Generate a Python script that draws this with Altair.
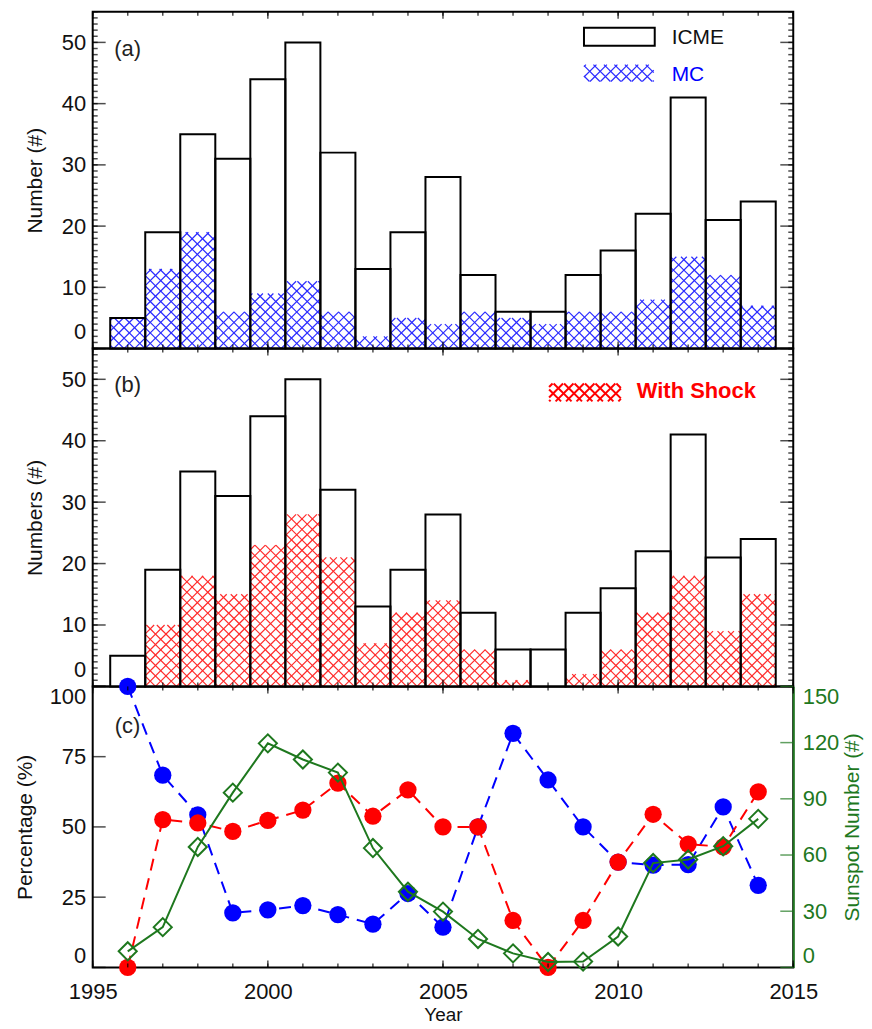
import altair as alt
import numpy as np
import pandas as pd

# ---------------- data ----------------
years = [1996, 1997, 1998, 1999, 2000, 2001, 2002, 2003, 2004, 2005,
         2006, 2007, 2008, 2009, 2010, 2011, 2012, 2013, 2014]
icme = [5, 19, 35, 31, 44, 50, 32, 13, 19, 28, 12, 6, 6, 12, 16, 22, 41, 21, 24]
mc = [5, 13, 19, 6, 9, 11, 6, 2, 5, 4, 6, 5, 4, 6, 6, 8, 15, 12, 7]
shock = [0, 10, 18, 15, 23, 28, 21, 7, 12, 14, 6, 1, 0, 2, 6, 12, 18, 9, 15]
mc_pct = [100, 68.4, 54.3, 19.4, 20.5, 22.0, 18.8, 15.4, 26.3, 14.3,
          50.0, 83.3, 66.7, 50.0, 37.5, 36.4, 36.6, 57.1, 29.2]
shock_pct = [0, 52.6, 51.4, 48.4, 52.3, 56.0, 65.6, 53.8, 63.2, 50.0,
             50.0, 16.7, 0, 16.7, 37.5, 54.5, 43.9, 42.9, 62.5]
sunspot = [8.6, 21.5, 64.3, 93.3, 119.6, 111.0, 104.0, 63.7, 40.4, 29.8,
           15.2, 7.5, 2.9, 3.1, 16.5, 55.7, 57.6, 64.7, 79.3]

year_ticks = list(range(1995, 2016))
year_major = [1995, 2000, 2005, 2010, 2015]
count_ticks = list(range(0, 56))
count_major = [0, 10, 20, 30, 40, 50]
pct_major = [0, 25, 50, 75, 100]
ssn_major = [0, 30, 60, 90, 120, 150]

# ---------------- layout / style ----------------
FONT = "Liberation Sans"
W = 703
HA, HB, HC = 338, 339, 282
XMIN, XMAX = 1995, 2015
YMAX = 55
GREEN = "#1e781e"
BLUE = "#0000ff"
RED = "#ff0000"
HATCH_BLUE = "#2a2aff"
HATCH_RED = "#ff2a2a"
PERIOD = 10.5  # hatch period in px

df = pd.DataFrame({"year": years, "icme": icme, "mc": mc, "shock": shock,
                   "mc_pct": mc_pct, "shock_pct": shock_pct, "sunspot": sunspot})

xscale = alt.Scale(domain=[XMIN, XMAX], nice=False, zero=False)


def cscale():
    return alt.Scale(domain=[0, YMAX], nice=False, zero=False)


def X(field, axis="none"):
    if axis == "none":
        return alt.X(field, type="quantitative", scale=xscale, axis=None)
    if axis is None:
        return alt.X(field, type="quantitative", scale=xscale)
    return alt.X(field, type="quantitative", scale=xscale, axis=axis)


def Y(field, scale, axis=None):
    if axis is None:
        return alt.Y(field, type="quantitative", scale=scale)
    return alt.Y(field, type="quantitative", scale=scale, axis=axis)


def hatch_segments(x0, x1, y0, y1, H):
    """Cross-hatch line segments (45 deg in pixel space) clipped to a data rectangle."""
    sx = W / (XMAX - XMIN)
    sy = H / YMAX
    U0, U1 = (x0 - XMIN) * sx, (x1 - XMIN) * sx
    V0, V1 = y0 * sy, y1 * sy
    segs = []
    for k in range(int(np.floor((U0 - V1) / PERIOD)), int(np.ceil((U1 - V0) / PERIOD)) + 1):
        c = k * PERIOD
        ua, ub = max(U0, V0 + c), min(U1, V1 + c)
        if ub - ua > 0.3:
            segs.append((ua, ua - c, ub, ub - c))
    for k in range(int(np.floor((U0 + V0) / PERIOD)), int(np.ceil((U1 + V1) / PERIOD)) + 1):
        c = k * PERIOD
        ua, ub = max(U0, c - V1), min(U1, c - V0)
        if ub - ua > 0.3:
            segs.append((ua, c - ua, ub, c - ub))
    return [{"hx": XMIN + a / sx, "hy": b / sy, "hx2": XMIN + cc / sx, "hy2": d / sy}
            for a, b, cc, d in segs]


def px_box_to_data(px0, px1, py0, py1, H):
    sx = W / (XMAX - XMIN)
    sy = H / YMAX
    return XMIN + px0 / sx, XMIN + px1 / sx, (H - py1) / sy, (H - py0) / sy


def hatch_layer(rows, color, width=1.2):
    return alt.Chart(pd.DataFrame(rows)).mark_rule(color=color, strokeWidth=width).encode(
        x=X("hx"), x2="hx2", y=Y("hy", cscale()), y2="hy2")


def yticks(vals, xpos, size, scale, color="black"):
    return alt.Chart(pd.DataFrame({"v": vals})).mark_tick(
        orient="horizontal", size=size, thickness=1.5, color=color
    ).encode(y=Y("v", scale), x=alt.value(xpos))


def xticks(vals, ypos, size, axis="none"):
    return alt.Chart(pd.DataFrame({"v": vals})).mark_tick(
        orient="vertical", size=size, thickness=1.5, color="black"
    ).encode(x=X("v", axis), y=alt.value(ypos))


def label(text, x, y, color="#222222", size=22, weight="normal", align="center"):
    return alt.Chart(pd.DataFrame({"t": [text]})).mark_text(
        font=FONT, fontSize=size, fontWeight=weight, color=color, align=align, baseline="middle"
    ).encode(text="t:N", x=alt.value(x), y=alt.value(y))


def frame_ticks(H):
    return [
        yticks(count_ticks, 2.5, 5, cscale()), yticks(count_major, 6.5, 13, cscale()),
        yticks(count_ticks, W - 2.5, 5, cscale()), yticks(count_major, W - 6.5, 13, cscale()),
        xticks(year_ticks, 2, 4), xticks(year_major, 3.5, 7),
        xticks(year_ticks, H - 2, 4), xticks(year_major, H - 3.5, 7),
    ]


base = alt.Chart(df).transform_calculate(x0="datum.year - 0.5", x1="datum.year + 0.5", zero="0")


def count_axis(title):
    return alt.Axis(title=title, values=count_major, ticks=False, tickSize=0, domain=False,
                    grid=False, labelPadding=7, titlePadding=16, labelFlush=True,
                    labelFlushOffset=-5)


def panel(H, title, part_values, hatch_color, letter, legend_layers):
    white = base.mark_rect(fill="white").encode(
        x=X("x0"), x2="x1:Q", y=Y("icme", cscale(), count_axis(title)), y2="zero:Q")
    rows = []
    for yr, v in zip(years, part_values):
        if v > 0:
            rows += hatch_segments(yr - 0.5, yr + 0.5, 0, v, H)
    hatch = hatch_layer(rows, hatch_color)
    outline = base.mark_rect(fill="transparent", stroke="black", strokeWidth=2).encode(
        x=X("x0"), x2="x1:Q", y=Y("icme", cscale()), y2="zero:Q")
    layers = [white, hatch, outline] + frame_ticks(H) + [label(letter, 35, 37)] + legend_layers
    return alt.layer(*layers).properties(width=W, height=H)


# legend of panel (a)
bx0, bx1, by0, by1 = px_box_to_data(493, 563, 53, 70, HA)
legend_a = [
    alt.Chart(pd.DataFrame({"t": ["ICME"]})).mark_rect(
        fill="white", stroke="black", strokeWidth=2
    ).encode(x=alt.value(493), x2=alt.value(564), y=alt.value(16), y2=alt.value(34)),
    label("ICME", 581, 26, color="#111111", size=21, align="left"),
    hatch_layer(hatch_segments(bx0, bx1, by0, by1, HA), HATCH_BLUE),
    label("MC", 581, 63, color=BLUE, size=21, align="left"),
]
sx0, sx1, sy0, sy1 = px_box_to_data(458, 530, 35, 53, HB)
legend_b = [
    hatch_layer(hatch_segments(sx0, sx1, sy0, sy1, HB), RED, width=2),
    label("With Shock", 546, 43, color=RED, size=22, weight="bold", align="left"),
]

pa = panel(HA, "Number (#)", mc, HATCH_BLUE, "(a)", legend_a)
pb = panel(HB, "Numbers (#)", shock, HATCH_RED, "(b)", legend_b)

# ---------------- panel (c) ----------------
pscale = alt.Scale(domain=[0, 100], nice=False, zero=False)
sscale = alt.Scale(domain=[0, 150], nice=False, zero=False)
line = alt.Chart(df)

x_axis = alt.Axis(title="Year", values=year_major, format="d", ticks=False, tickSize=0,
                  domain=False, grid=False, labelPadding=14, titlePadding=3, labelFlush=False,
                  titleFontSize=19)
p_axis = alt.Axis(title="Percentage (%)", values=pct_major, ticks=False, tickSize=0,
                  domain=False, grid=False, labelPadding=7, titlePadding=14, labelFlush=True,
                  labelFlushOffset=0)
s_axis = alt.Axis(title="Sunspot Number (#)", orient="right", values=ssn_major, ticks=False,
                  tickSize=0, domain=True, domainColor=GREEN, domainWidth=2, grid=False,
                  labelColor=GREEN, titleColor=GREEN, labelPadding=9, titlePadding=3,
                  titleAngle=270, titleBaseline="top", labelFlush=True, labelFlushOffset=0)

blue_line = line.mark_line(color=BLUE, strokeWidth=2, strokeDash=[12, 8]).encode(
    x=X("year", x_axis), y=Y("mc_pct", pscale, p_axis))
blue_pts = line.mark_circle(color=BLUE, size=300, opacity=1).encode(
    x=X("year", None), y=Y("mc_pct", pscale))
red_line = line.mark_line(color=RED, strokeWidth=2, strokeDash=[12, 8]).encode(
    x=X("year", None), y=Y("shock_pct", pscale))
red_pts = line.mark_circle(color=RED, size=300, opacity=1).encode(
    x=X("year", None), y=Y("shock_pct", pscale))

pct_group = alt.layer(
    blue_line, blue_pts, red_line, red_pts,
    yticks(pct_major, 6.5, 13, pscale),
    xticks(year_ticks, 2, 4, None), xticks(year_major, 3.5, 7, None),
    xticks(year_ticks, HC - 2, 4, None), xticks(year_major, HC - 3.5, 7, None),
    label("(c)", 35, 40),
)

green_line = line.mark_line(color=GREEN, strokeWidth=2).encode(
    x=X("year", None), y=Y("sunspot", sscale, s_axis))
green_pts = line.mark_point(shape="diamond", filled=False, color=GREEN, size=330,
                            strokeWidth=2, opacity=1).encode(
    x=X("year", None), y=Y("sunspot", sscale))
ssn_group = alt.layer(green_line, green_pts, yticks(ssn_major, W - 6.5, 13, sscale, GREEN))

pc = alt.layer(pct_group, ssn_group).resolve_scale(y="independent").properties(width=W, height=HC)

chart = alt.vconcat(pa, pb, pc, spacing=0, bounds="flush").properties(
    padding={"left": 5, "top": 0, "right": 0, "bottom": 0}
).configure_view(stroke="black", strokeWidth=2).configure_axis(
    labelFont=FONT, titleFont=FONT, labelFontSize=22, titleFontSize=21,
    titleFontWeight="normal", labelColor="#111111", titleColor="#111111"
)

chart.save("out.html", embed_options={"renderer": "svg", "actions": False})
